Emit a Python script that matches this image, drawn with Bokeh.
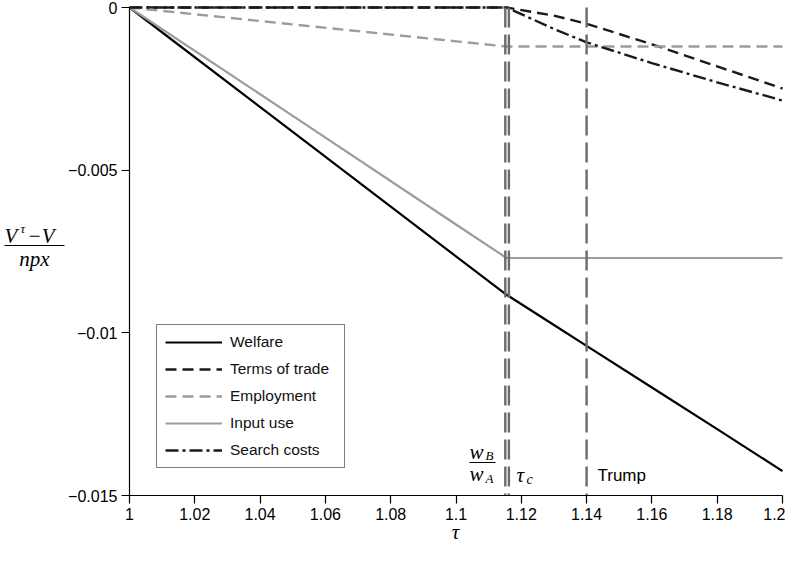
from bokeh.plotting import figure
from bokeh.models import Label, FixedTicker, Range1d, Arrow
from bokeh.embed import file_html
from bokeh.resources import INLINE

# ---- data -------------------------------------------------------------
tau = [1.0, 1.05, 1.1, 1.1155, 1.13, 1.14, 1.16, 1.18, 1.2]
welfare = [0.0, -0.00382, -0.00765, -0.00883, -0.00976, -0.01040, -0.01168, -0.01296, -0.01425]
terms_of_trade = [0.0, 0.0, 0.0, 0.0, -0.00025, -0.00050, -0.00113, -0.00181, -0.00249]
employment = [0.0, -0.00052, -0.00104, -0.0012, -0.0012, -0.0012, -0.0012, -0.0012, -0.0012]
input_use = [0.0, -0.00333, -0.00667, -0.0077, -0.0077, -0.0077, -0.0077, -0.0077, -0.0077]
search_costs = [0.0, 0.0, 0.0, 0.0, -0.00066, -0.00107, -0.00171, -0.00230, -0.00286]

markers = [1.1151, 1.1162, 1.14]   # w_B/w_A, tau_c, Trump

x_ticks = [1.0, 1.02, 1.04, 1.06, 1.08, 1.1, 1.12, 1.14, 1.16, 1.18, 1.2]
x_tick_labels = ["1", "1.02", "1.04", "1.06", "1.08", "1.1", "1.12", "1.14", "1.16", "1.18", "1.2"]
y_ticks = [-0.015, -0.01, -0.005, 0.0]
y_tick_labels = ["\u22120.015", "\u22120.01", "\u22120.005", "0"]

# ---- layout (pixels) --------------------------------------------------
W, H = 785, 546
AX_LEFT, AX_RIGHT = 129, 782      # pixel of x = 1.0 and x = 1.2
AX_TOP, AX_BOTTOM = 7, 495        # pixel of y = 0 and y = -0.015
XS = (x_ticks[-1] - x_ticks[0]) / (AX_RIGHT - AX_LEFT)
YS = (y_ticks[-1] - y_ticks[0]) / (AX_BOTTOM - AX_TOP)


def tx(px):
    return x_ticks[0] + (px - AX_LEFT) * XS


def ty(py):
    return y_ticks[-1] - (py - AX_TOP) * YS


p = figure(width=W, height=H, output_backend="svg", toolbar_location=None, title=None,
           x_range=Range1d(tx(0), tx(W)), y_range=Range1d(ty(H), ty(0)),
           min_border_left=0, min_border_right=0, min_border_top=0, min_border_bottom=0)
p.outline_line_color = None
p.grid.visible = False
p.background_fill_color = "white"
p.border_fill_color = "white"

p.xaxis.fixed_location = y_ticks[0]
p.xaxis.bounds = (x_ticks[0], x_ticks[-1])
p.yaxis.fixed_location = x_ticks[0]
p.yaxis.bounds = (y_ticks[0], y_ticks[-1])

for ax in (p.xaxis[0], p.yaxis[0]):
    ax.axis_line_color = "black"
    ax.axis_line_width = 1.2
    ax.major_tick_line_color = "black"
    ax.major_tick_line_width = 1.2
    ax.major_tick_out = 8
    ax.major_tick_in = 0
    ax.minor_tick_line_color = None
    ax.major_label_text_font = "Liberation Sans"
    ax.major_label_text_font_size = "16px"
    ax.major_label_text_color = "black"
    ax.major_label_standoff = 4

p.xaxis.ticker = FixedTicker(ticks=x_ticks)
p.xaxis.major_label_overrides = {t: l for t, l in zip(x_ticks, x_tick_labels)}
p.yaxis.ticker = FixedTicker(ticks=y_ticks)
p.yaxis.major_label_overrides = {t: l for t, l in zip(y_ticks, y_tick_labels)}

# ---- series -----------------------------------------------------------
p.line(tau, welfare, line_color="black", line_width=2.2, legend_label="Welfare")
p.line(tau, terms_of_trade, line_color="#1a1a1a", line_width=2.4, line_dash="11 6",
       legend_label="Terms of trade")
p.line(tau, employment, line_color="#9c9c9c", line_width=2.4, line_dash="11 6",
       legend_label="Employment")
p.line(tau, input_use, line_color="#9c9c9c", line_width=2.2, legend_label="Input use")
p.line(tau, search_costs, line_color="#1a1a1a", line_width=2.4, line_dash="13 4 3 4",
       legend_label="Search costs")

# ---- vertical markers (dash pattern starts at the top) -----------------
p.segment(x0=markers, x1=markers, y0=[y_ticks[-1]] * len(markers), y1=[y_ticks[0]] * len(markers),
          line_color="#6b6b6b", line_width=2.4, line_dash="20 7")

# ---- legend -----------------------------------------------------------
lg = p.legend[0]
lg.location = (156, H - 468)
lg.border_line_color = "black"
lg.border_line_width = 1
lg.background_fill_color = "white"
lg.background_fill_alpha = 1
lg.label_text_font = "Liberation Sans"
lg.label_text_font_size = "15.5px"
lg.label_text_color = "#111111"
lg.glyph_width = 57
lg.glyph_height = 18
lg.label_height = 18
lg.label_width = 106
lg.spacing = 9
lg.padding = 8
lg.margin = 0
lg.label_standoff = 8


# ---- text annotations -------------------------------------------------
def lab(x, y, text, size, font="Liberation Serif", style="italic", align="left"):
    p.add_layout(Label(x=tx(x), y=ty(y), text=text, text_font=font,
                       text_font_style=style, text_font_size=size,
                       text_align=align, text_baseline="middle", text_color="black"))


def bar(x0, x1, y):
    p.add_layout(Arrow(end=None, start=None, x_start=tx(x0), y_start=ty(y),
                       x_end=tx(x1), y_end=ty(y), line_color="black", line_width=1))


# y axis label: (V^tau - V) / npx
lab(4, 235, "V", "21px")
lab(20, 228, "\u03c4", "13px")
lab(27, 235, "\u2212V", "21px")
bar(4, 64, 245)
lab(34, 258, "npx", "21px", align="center")

# x axis label
lab(455, 531, "\u03c4", "21px", align="center")

# w_B / w_A
lab(469, 451, "w", "21px")
lab(485, 455, "B", "13px")
bar(469, 495, 462)
lab(469, 473, "w", "21px")
lab(485, 478, "A", "13px")

# tau_c
lab(516, 474, "\u03c4", "21px")
lab(526, 479, "c", "14px")

# Trump
lab(597, 475, "Trump", "17px", font="Liberation Sans", style="normal")

open("out.html", "w").write(file_html(p, INLINE))
